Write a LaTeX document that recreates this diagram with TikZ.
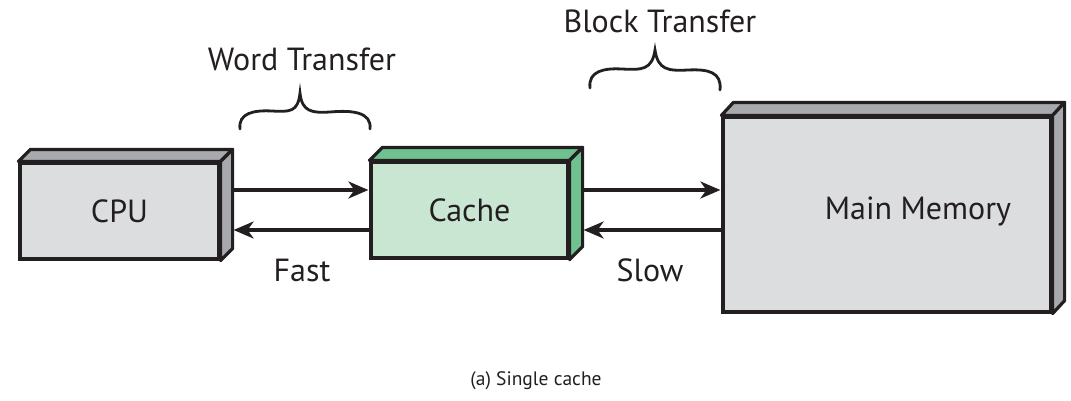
\documentclass[tikz,border=0pt]{standalone}
\usepackage{fontspec}
\setmainfont{PT Sans}
\usetikzlibrary{arrows.meta,calc}
\definecolor{ink}{HTML}{231F20}
\definecolor{greyfront}{HTML}{DCDDDF}
\definecolor{greyside}{HTML}{A7A9AC}
\definecolor{greenfront}{HTML}{C9E6D3}
\definecolor{greenside}{HTML}{6FC28F}
\tikzset{
  box/.style={draw=ink, line width=3.2pt, inner sep=0pt, line join=miter},
  face/.style={draw=ink, line width=3.2pt, line join=round},
  arr/.style={draw=ink, line width=3.2pt, -{Stealth[length=20pt,width=17pt,inset=6pt]}},
  lbl/.style={text=ink, font=\fontsize{32}{36}\selectfont, inner sep=0pt},
  brace/.style={draw=ink, line width=2.8pt, line cap=round}
}
\begin{document}
\begin{tikzpicture}[x=1pt,y=-1pt]
\useasboundingbox (0,0) rectangle (1071,400);

% CPU block
\node[box, fill=greyfront, minimum width=199pt, minimum height=96pt] (cpu) at (119.5,211) {};
\fill[greyside, face] (cpu.north west) -- ++(12,-12) -- ($(cpu.north east)+(12,-12)$) -- (cpu.north east) -- cycle;
\fill[greyside, face] (cpu.north east) -- ++(12,-12) -- ($(cpu.south east)+(12,-12)$) -- (cpu.south east) -- cycle;
\node[lbl] at (cpu.center) {CPU};

% Cache block
\node[box, fill=greenfront, minimum width=197pt, minimum height=96pt] (cache) at (469.5,210) {};
\fill[greenside, face] (cache.north west) -- ++(13,-13) -- ($(cache.north east)+(13,-13)$) -- (cache.north east) -- cycle;
\fill[greenside, face] (cache.north east) -- ++(13,-13) -- ($(cache.south east)+(13,-13)$) -- (cache.south east) -- cycle;
\node[lbl] at (cache.center) {Cache};

% Main memory block
\node[box, fill=greyfront, minimum width=328pt, minimum height=195pt] (mem) at (887,214.5) {};
\fill[greyside, face] (mem.north west) -- ++(12,-13) -- ($(mem.north east)+(12,-13)$) -- (mem.north east) -- cycle;
\fill[greyside, face] (mem.north east) -- ++(12,-13) -- ($(mem.south east)+(12,-13)$) -- (mem.south east) -- cycle;
\node[lbl] (memtext) at (918,211) {Main Memory};

% Transfers
\draw[arr] ($(cpu.east)+(12,-21)$) -- ($(cache.west)+(-1,-20)$);
\draw[arr] ($(cache.west)+(0,20)$) -- ($(cpu.east)+(13,19)$);
\draw[arr] ($(cache.east)+(13,-20)$) -- ($(mem.west)+(-1,-24.5)$);
\draw[arr] ($(mem.west)+(0,15.5)$) -- ($(cache.east)+(14,20)$);

\node[lbl] (fast) at (302,270) {Fast};
\node[lbl] (slow) at (650,270) {Slow};

% Braces
\draw[brace] (240,129) .. controls (238,113) and (254,110) .. (272,111)
  .. controls (290,112) and (298,112) .. (300,93)
  .. controls (302,112) and (312,113) .. (330,112)
  .. controls (352,110) and (372,112) .. (370,129);
\draw[brace] (590,88) .. controls (588,71) and (604,68) .. (622,69)
  .. controls (642,70) and (652,70) .. (655,50)
  .. controls (658,70) and (668,71) .. (688,70)
  .. controls (708,69) and (722,72) .. (720,90);
\node[lbl] (word) at (302,59) {Word Transfer};
\node[lbl] (block) at (660,21) {Block Transfer};

\node[text=ink, font=\fontsize{19.5}{23}\selectfont, inner sep=0pt] (cap) at (536,381) {(a) Single cache};
\end{tikzpicture}
\end{document}
